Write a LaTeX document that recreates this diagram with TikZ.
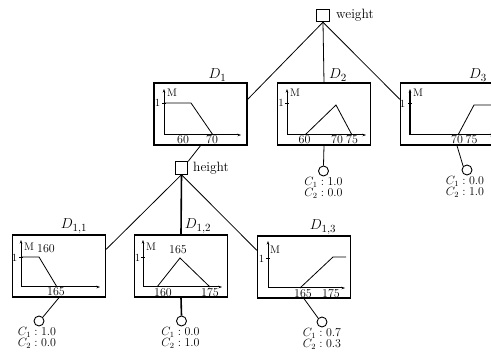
\documentclass[tikz,border=0pt]{standalone}
\usetikzlibrary{arrows.meta,calc}
\begin{document}
\begin{tikzpicture}[x=1pt,y=-1pt,
  box/.style={draw,line width=1.3pt,minimum width=93pt,minimum height=62pt,inner sep=0pt},
  sq/.style={draw,line width=0.9pt,minimum size=12.5pt,inner sep=0pt},
  leaf/.style={draw,circle,line width=0.9pt,minimum size=10pt,inner sep=0pt},
  conn/.style={line width=0.8pt},
  thickconn/.style={line width=1.6pt},
  ax/.style={line width=1pt,-{Stealth[length=3.5pt,width=2.5pt]}},
  mf/.style={line width=0.8pt},
  tick/.style={line width=0.8pt},
  lab/.style={font=\fontsize{12}{13}\selectfont,inner sep=0pt},
  small/.style={font=\fontsize{11}{12}\selectfont,inner sep=0pt},
  attr/.style={font=\fontsize{13.5}{14}\selectfont,inner sep=0pt,anchor=west},
  dlab/.style={font=\fontsize{15}{16}\selectfont,inner sep=0pt,anchor=south},
  cls/.style={font=\fontsize{11.5}{11}\selectfont,align=center,inner sep=0pt,anchor=north}]
\useasboundingbox (0,0) rectangle (491,358);

% attribute nodes
\node[sq] (wsq) at (323,15.5) {};
\node[attr] (wlab) at (336,15.5) {weight};
\node[sq] (hsq) at (181.5,168) {};
\node[attr] (hlab) at (193,168) {height};

% boxes
\node[box] (D1) at (200.5,114) {};
\node[box] (D2) at (324,114) {};
\node[box] (D3) at (447,114) {};
\node[box] (D11) at (59,266) {};
\node[box] (D12) at (181,266) {};
\node[box] (D13) at (304,267) {};

\node[dlab] (D1l) at ([xshift=17pt,yshift=1pt]D1.north) {$D_1$};
\node[dlab] (D2l) at ([xshift=14pt,yshift=1pt]D2.north) {$D_2$};
\node[dlab] (D3l) at ([xshift=31pt,yshift=1pt]D3.north) {$D_3$};
\node[dlab] (D11l) at ([xshift=15pt,yshift=1pt]D11.north) {$D_{1,1}$};
\node[dlab] (D12l) at ([xshift=17pt,yshift=1pt]D12.north) {$D_{1,2}$};
\node[dlab] (D13l) at ([xshift=19pt,yshift=1pt]D13.north) {$D_{1,3}$};

% leaves
\node[leaf] (L2) at (323.5,171) {};
\node[leaf] (L3) at (467,170) {};
\node[leaf] (L11) at (39,321) {};
\node[leaf] (L12) at (181.5,321) {};
\node[leaf] (L13) at (322,322) {};

\node[cls] (C2) at ([yshift=-1pt]L2.south) {$C_1:1.0$\\$C_2:0.0$};
\node[cls] (C3) at ([xshift=-2pt,yshift=-1pt]L3.south) {$C_1:0.0$\\$C_2:1.0$};
\node[cls] (C11) at ([xshift=-2pt,yshift=-1pt]L11.south) {$C_1:1.0$\\$C_2:0.0$};
\node[cls] (C12) at ([xshift=-1pt,yshift=-1pt]L12.south) {$C_1:0.0$\\$C_2:1.0$};
\node[cls] (C13) at ([yshift=-1pt]L13.south) {$C_1:0.7$\\$C_2:0.3$};

% connectors
\draw[conn] (wsq.south) -- ([yshift=-17pt]D1.north east);
\draw[conn] (wsq.south) -- (D2.north);
\draw[conn] (wsq.south) -- ([yshift=-17pt]D3.north west);
\draw[conn] (D1.south) -- (hsq.north east);
\draw[conn] (hsq.south) -- ([yshift=-15pt]D11.north east);
\draw[thickconn] (hsq.south) -- (D12.north);
\draw[conn] (hsq.south) -- ([yshift=-15pt]D13.north west);
\draw[conn] (D2.south) -- (L2.north);
\draw[conn] ([xshift=10pt]D3.south) -- (L3.north west);
\draw[conn] (D11.south) -- (L11.north east);
\draw[thickconn] (D12.south) -- (L12.north);
\draw[conn] (D13.south) -- (L13.north west);

% plot in D1
\draw[ax] (164,135) -- (164,89);
\draw[ax] (164,135) -- (241,135);
\draw[tick] (162,103) -- (166,103);
\node[small] (D1one) at (157.5,103) {1};
\node[small] (D1M) at (172,93) {M};
\draw[mf] (164,103) -- (191,103) -- (213,135);
\node[lab] (D1a) at (183,140) {60};
\node[lab] (D1b) at (212,140) {70};

% plot in D2
\draw[ax] (287,135) -- (287,89);
\draw[ax] (287,135) -- (366,135);
\draw[tick] (285,103) -- (289,103);
\node[small] (D2one) at (281,103) {1};
\node[small] (D2M) at (295,93) {M};
\draw[mf] (305,135) -- (336,105) -- (352,135);
\node[lab] (D2a) at (304.5,140) {60};
\node[lab] (D2b) at (337,140) {70};
\node[lab] (D2c) at (352,140) {75};

% plot in D3
\draw[ax,line width=1.7pt] (410,135) -- (410,89);
\draw[ax] (410,135) -- (494,135);
\draw[tick] (408,103) -- (412,103);
\node[small] (D3one) at (402.5,104) {1};
\node[small] (D3M) at (418,93) {M};
\draw[mf] (458,135) -- (474,105) -- (492,105);
\node[lab] (D3a) at (457,140) {70};
\node[lab] (D3b) at (471.5,140) {75};

% plot in D11
\draw[ax] (21,287) -- (21,240);
\draw[ax] (21,287) -- (100,287);
\draw[tick] (19,257) -- (23,257);
\node[small] (D11one) at (14.5,258) {1};
\node[small] (D11M) at (29,247) {M};
\draw[mf] (21,257) -- (39,257) -- (57,287);
\node[lab] (D11a) at (46,249) {160};
\node[lab] (D11b) at (56,292) {165};

% plot in D12
\draw[ax] (143,287) -- (143,240);
\draw[ax] (143,287) -- (222,287);
\draw[tick] (141,257) -- (145,257);
\node[small] (D12one) at (137.5,258) {1};
\node[small] (D12M) at (151,247) {M};
\draw[mf] (157,287) -- (180,258) -- (210,287);
\node[lab] (D12a) at (178,250) {165};
\node[lab] (D12b) at (163,293) {160};
\node[lab] (D12c) at (210,293) {175};

% plot in D13
\draw[ax] (268,288) -- (268,241);
\draw[ax] (268,288) -- (345,288);
\draw[tick] (266,258) -- (270,258);
\node[small] (D13one) at (261.5,259) {1};
\node[small] (D13M) at (275,250) {M};
\draw[mf] (300,288) -- (333,257) -- (346,257);
\node[lab] (D13a) at (303,294) {165};
\node[lab] (D13b) at (331,294) {175};
\end{tikzpicture}
\end{document}
